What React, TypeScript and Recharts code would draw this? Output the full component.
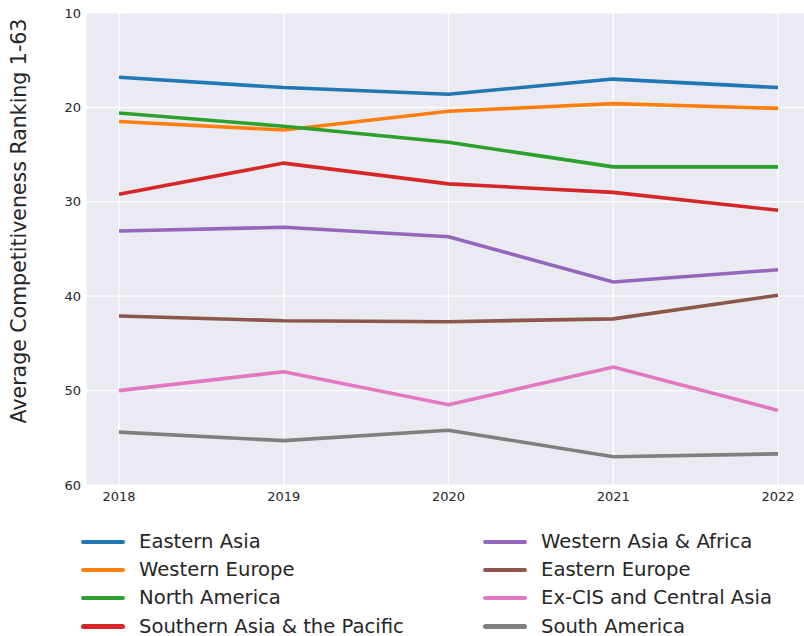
import React from "react";
import { LineChart, Line, XAxis, YAxis, CartesianGrid, Legend } from "recharts";

const years = [2018, 2019, 2020, 2021, 2022];
const yTicks = [10, 20, 30, 40, 50, 60];

const seriesNames = [
  "Eastern Asia",
  "Western Europe",
  "North America",
  "Southern Asia & the Pacific",
  "Western Asia & Africa",
  "Eastern Europe",
  "Ex-CIS and Central Asia",
  "South America",
];

const seriesColors = [
  "#1f77b4",
  "#ff7f0e",
  "#2ca02c",
  "#d62728",
  "#9467bd",
  "#8c564b",
  "#e377c2",
  "#7f7f7f",
];

const easternAsia = [16.8, 17.9, 18.6, 17.0, 17.9];
const westernEurope = [21.5, 22.4, 20.4, 19.6, 20.1];
const northAmerica = [20.6, 22.0, 23.7, 26.3, 26.3];
const southernAsiaPacific = [29.2, 25.9, 28.1, 29.0, 30.9];
const westernAsiaAfrica = [33.1, 32.7, 33.7, 38.5, 37.2];
const easternEurope = [42.1, 42.6, 42.7, 42.4, 39.9];
const exCisCentralAsia = [50.0, 48.0, 51.5, 47.5, 52.1];
const southAmerica = [54.4, 55.3, 54.2, 57.0, 56.7];

const seriesValues = [
  easternAsia,
  westernEurope,
  northAmerica,
  southernAsiaPacific,
  westernAsiaAfrica,
  easternEurope,
  exCisCentralAsia,
  southAmerica,
];

const data = years.map((year, i) => {
  const row: Record<string, number> = { year };
  seriesNames.forEach((name, s) => {
    row[name] = seriesValues[s][i];
  });
  return row;
});

const FONT = "'DejaVu Sans', sans-serif";
const TEXT = "#262626";

const LegendContent = () => {
  return (
    <div style={{ position: "relative", width: 820, height: 112, fontFamily: FONT }}>
      {seriesNames.map((name, i) => {
        const col = Math.floor(i / 4);
        const row = i % 4;
        const left = col === 0 ? 81 : 483;
        const top = row * 28.1;
        return (
          <div
            key={name}
            style={{
              position: "absolute",
              left,
              top,
              height: 22,
              display: "flex",
              alignItems: "center",
              whiteSpace: "nowrap",
            }}
          >
            <span
              style={{
                display: "inline-block",
                width: 44,
                height: 4.5,
                borderRadius: 2.5,
                background: seriesColors[i],
                marginRight: 14,
              }}
            />
            <span style={{ fontSize: 19.6, lineHeight: 1, color: TEXT }}>{name}</span>
          </div>
        );
      })}
    </div>
  );
};

export default function App() {
  return (
    <div
      style={{
        position: "fixed",
        top: 0,
        left: 0,
        width: 804,
        height: 636,
        overflow: "hidden",
        background: "#ffffff",
      }}
    >
      <LineChart
        width={820}
        height={636}
        data={data}
        margin={{ top: 13, right: 9, left: 0, bottom: 9 }}
      >
        <CartesianGrid stroke="#ffffff" strokeWidth={1.2} fill="#eaeaf2" />
        <XAxis
          dataKey="year"
          type="number"
          domain={[2017.8, 2022.2]}
          ticks={years}
          axisLine={false}
          tickLine={false}
          tickSize={0}
          tickMargin={7}
          height={30}
          tick={{ fill: TEXT, fontSize: 13, fontFamily: FONT }}
          allowDataOverflow
        />
        <YAxis
          type="number"
          domain={[10, 60]}
          ticks={yTicks}
          reversed
          axisLine={false}
          tickLine={false}
          tickSize={0}
          tickMargin={5}
          width={86}
          tick={{ fill: TEXT, fontSize: 13, fontFamily: FONT }}
          label={{
            content: () => (
              <text
                transform="translate(25.5,221) rotate(-90)"
                textAnchor="middle"
                fill={TEXT}
                fontSize={20.5}
                fontFamily={FONT}
              >
                Average Competitiveness Ranking 1-63
              </text>
            ),
          }}
        />
        <Legend
          verticalAlign="bottom"
          content={LegendContent}
          wrapperStyle={{ top: 531, left: 0, bottom: "auto", width: 820, height: 112 }}
        />
        {seriesNames.map((name, s) => (
          <Line
            key={name}
            type="linear"
            dataKey={name}
            name={name}
            stroke={seriesColors[s]}
            strokeWidth={3.6}
            dot={false}
            activeDot={false}
            isAnimationActive={false}
          />
        ))}
      </LineChart>
    </div>
  );
}
